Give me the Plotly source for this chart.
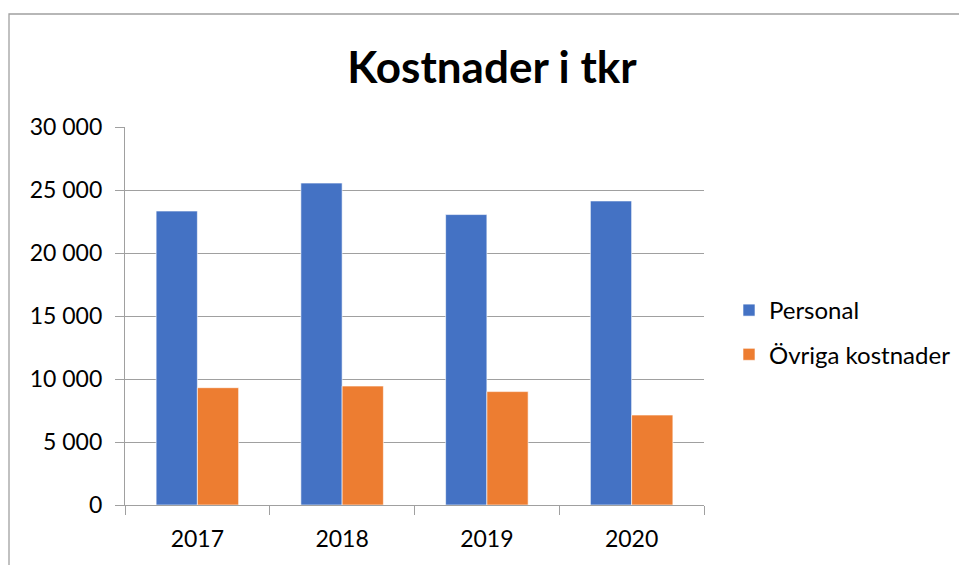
import plotly.graph_objects as go

years = ["2017", "2018", "2019", "2020"]
personal = [23330, 25550, 23050, 24130]
ovriga = [9310, 9440, 9000, 7140]
tick_vals = [0, 5000, 10000, 15000, 20000, 25000, 30000]
tick_text = ["0", "5 000", "10 000", "15 000", "20 000", "25 000", "30 000"]

W, H = 967, 565
OFF = 8  # page body margin
L, R, T, B = 125 - OFF, 263 + OFF, 127 - OFF, 60 + OFF
pw, ph = W - L - R, H - T - B

fig = go.Figure()
fig.add_trace(go.Bar(x=years, y=personal, name="Personal", marker_color="#4472C4",
                     marker_line=dict(color="#ffffff", width=0.6), legendgroup="a"))
fig.add_trace(go.Bar(x=years, y=ovriga, name="Övriga kostnader", marker_color="#ED7D31",
                     marker_line=dict(color="#ffffff", width=0.6), legendgroup="b"))

font = "Lato, 'Open Sans', sans-serif"
fig.update_layout(
    width=W, height=H,
    margin=dict(l=L, r=R, t=T, b=B),
    paper_bgcolor="white", plot_bgcolor="white",
    barmode="group", bargap=0.43, bargroupgap=0,
    title=dict(text="<b>Kostnader i tkr</b>", x=(492 - OFF) / W, xanchor="center",
               y=1 - (68 - OFF) / H, yanchor="middle",
               font=dict(family=font, size=44, color="#000000")),
    font=dict(family=font, size=22, color="#000000"),
    showlegend=True,
    legend=dict(x=(729 - OFF - L) / pw, xanchor="left", y=(ph - (288 - 127)) / ph, yanchor="top",
                font=dict(size=24, color="#000000"), tracegroupgap=10,
                itemwidth=30, bgcolor="rgba(0,0,0,0)"),
    xaxis=dict(showline=True, linecolor="#a0a0a0", linewidth=1.3,
               ticks="outside", ticklen=9, tickcolor="#a0a0a0", tickson="boundaries",
               tickfont=dict(size=23), showgrid=False, ticklabelstandoff=13),
    yaxis=dict(range=[0, 30000], tickvals=tick_vals, ticktext=tick_text,
               showline=True, linecolor="#a0a0a0", linewidth=1.3,
               ticks="outside", ticklen=9, tickcolor="#a0a0a0",
               gridcolor="#a0a0a0", gridwidth=1.3, zeroline=False,
               tickfont=dict(size=23), ticklabelstandoff=8),
)

fig.add_shape(type="rect", xref="paper", yref="paper",
              x0=(9 - 125) / pw, x1=(W + 20 - 125) / pw,
              y0=-(H + 20 - 505) / ph, y1=(505 - 14) / ph,
              line=dict(color="#a0a0a0", width=1.3), fillcolor="rgba(0,0,0,0)", layer="below")

fig.write_html("out.html")
